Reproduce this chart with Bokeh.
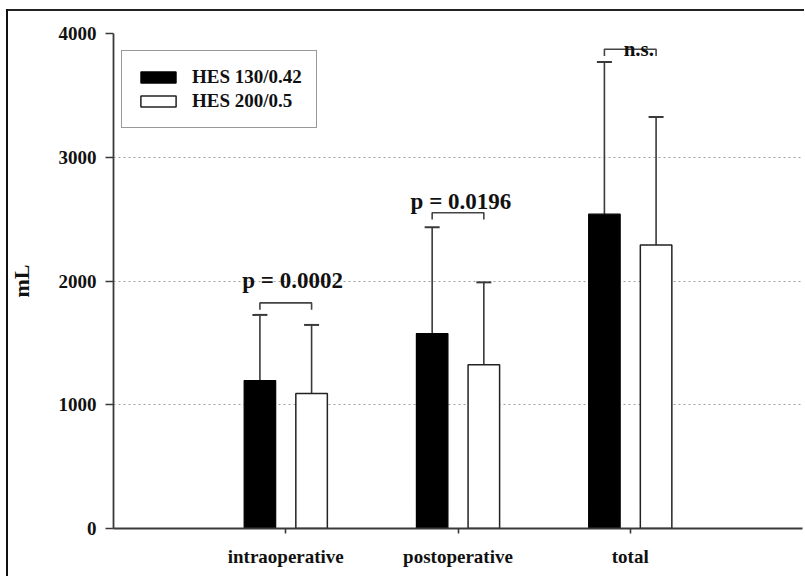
from bokeh.plotting import figure
from bokeh.models import (Range1d, FixedTicker, Whisker, TeeHead, ColumnDataSource,
                          Legend, LegendItem)
from bokeh.core.properties import value
from bokeh.embed import file_html
from bokeh.resources import INLINE

# ---- data ----
categories = ["intraoperative", "postoperative", "total"]
series_names = ["HES 130/0.42", "HES 200/0.5"]
hes130_mean = [1195, 1575, 2540]
hes130_sd = [531, 860, 1229]
hes200_mean = [1090, 1323, 2290]
hes200_sd = [555, 666, 1035]
p_labels = ["p = 0.0002", "p = 0.0196", "n.s."]
bracket_y = [1823, 2551, 3873]
label_y = [2008, 2645, 3873]
y_ticks = [0, 1000, 2000, 3000, 4000]

FONT = "Liberation Serif"
TXT = "#111111"
AX = "#3a3a3a"
OFF = 0.15
BW = 0.183

pos = [i + 1 for i in range(len(categories))]

p = figure(width=804, height=576, output_backend="svg", toolbar_location=None,
           x_range=Range1d(0, len(categories) + 1), y_range=Range1d(0, 4000),
           min_border_left=113, min_border_right=2, min_border_top=33, min_border_bottom=48)
p.border_fill_color = None
p.background_fill_color = None
p.outline_line_color = None
# outer picture frame (left and top edges only)
p.styles = {"box-shadow": "inset 6px 0 0 0 #fff, inset 0 9px 0 0 #fff, "
                          "inset 8px 0 0 0 #111, inset 0 11px 0 0 #222"}

# grid
p.xgrid.grid_line_color = None
p.ygrid.ticker = FixedTicker(ticks=y_ticks)
p.ygrid.grid_line_color = "#a0a0a0"
p.ygrid.grid_line_dash = "2 3"
p.ygrid.grid_line_width = 1

src_a = ColumnDataSource(dict(x=[c - OFF for c in pos], top=hes130_mean,
                              up=[m + s for m, s in zip(hes130_mean, hes130_sd)]))
src_b = ColumnDataSource(dict(x=[c + OFF for c in pos], top=hes200_mean,
                              up=[m + s for m, s in zip(hes200_mean, hes200_sd)]))

for src in (src_a, src_b):
    w = Whisker(source=src, base="x", lower="top", upper="up",
                upper_head=TeeHead(size=15, line_color=AX, line_width=2),
                lower_head=None, line_color=AX, line_width=1.6)
    p.add_layout(w)

ra = p.vbar(x="x", top="top", width=BW, source=src_a, fill_color="black",
            line_color="black", line_width=1.2)
rb = p.vbar(x="x", top="top", width=BW, source=src_b, fill_color="white",
            line_color="#222", line_width=1.5)

# significance brackets
leg = 55
xs, ys = [], []
for c, by in zip(pos, bracket_y):
    xs.append([c - OFF, c - OFF, c + OFF, c + OFF])
    ys.append([by - leg, by, by, by - leg])
p.multi_line(xs=xs, ys=ys, line_color="#444", line_width=1.6)

lab_dx = [0.04, 0.017, 0.05]
p.text(x=[c + d for c, d in zip(pos[:2], lab_dx[:2])], y=label_y[:2], text=p_labels[:2],
       text_font=value(FONT), text_font_style="bold", text_font_size="23px",
       text_color=TXT, text_align="center", text_baseline="alphabetic")
p.text(x=[pos[2] + lab_dx[2]], y=[label_y[2]], text=[p_labels[2]],
       text_font=value(FONT), text_font_style="bold", text_font_size="21px",
       text_color=TXT, text_align="center", text_baseline="alphabetic")

# axes
p.xaxis.ticker = FixedTicker(ticks=pos)
p.xaxis.major_label_overrides = {c: n for c, n in zip(pos, categories)}
p.yaxis.ticker = FixedTicker(ticks=y_ticks)
for ax in (p.xaxis[0], p.yaxis[0]):
    ax.axis_line_color = AX
    ax.axis_line_width = 1.8
    ax.major_tick_line_color = AX
    ax.major_tick_line_width = 1.6
    ax.minor_tick_line_color = None
    ax.major_tick_in = 0
    ax.major_label_text_font = FONT
    ax.major_label_text_font_style = "bold"
    ax.major_label_text_font_size = "19px"
    ax.major_label_text_color = TXT
p.xaxis.major_tick_out = 5
p.xaxis.major_label_standoff = 12
p.yaxis.major_tick_out = 8
p.yaxis.major_label_standoff = 9
p.yaxis.axis_label = "mL"
p.yaxis.axis_label_text_font = FONT
p.yaxis.axis_label_text_font_style = "bold"
p.yaxis.axis_label_text_font_size = "22px"
p.yaxis.axis_label_text_color = TXT
p.yaxis.axis_label_standoff = 22

legend = Legend(items=[LegendItem(label=series_names[0], renderers=[ra]),
                       LegendItem(label=series_names[1], renderers=[rb])],
                location=(8, 400))
legend.padding = 14
legend.spacing = 0
legend.margin = 0
legend.glyph_width = 44
legend.glyph_height = 14
legend.label_height = 24
legend.label_standoff = 12
legend.label_text_font = FONT
legend.label_text_font_style = "bold"
legend.label_text_font_size = "19px"
legend.label_text_color = TXT
legend.border_line_color = "#333"
legend.border_line_width = 1.5
legend.background_fill_color = "white"
legend.background_fill_alpha = 1
p.add_layout(legend, "center")

open("out.html", "w").write(file_html(p, INLINE))
